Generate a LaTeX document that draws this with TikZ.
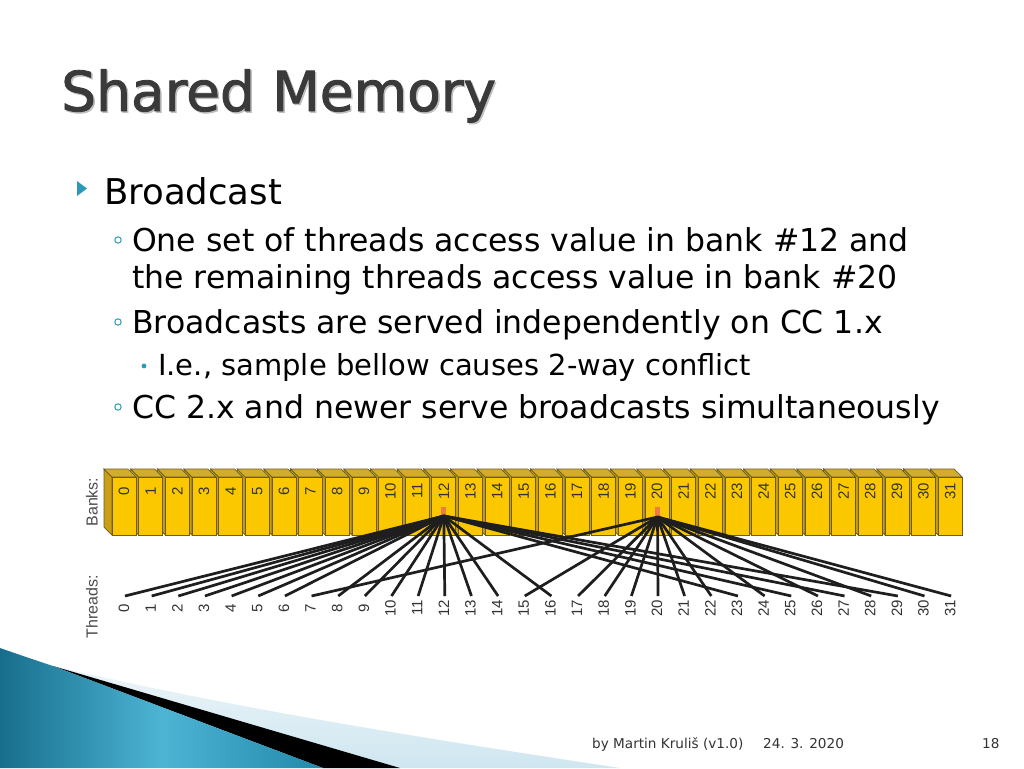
\documentclass[tikz,border=0pt]{standalone}
\usepackage{fontspec}
\setmainfont{DejaVu Sans}
\newfontfamily\titlefont{DejaVu Sans}[FakeBold=1.6]
\newfontfamily\figfont{Liberation Sans}
\usetikzlibrary{calc}
\definecolor{bullteal}{HTML}{2C9AB7}
\definecolor{titlegray}{HTML}{3A3A3A}
\definecolor{bankfront}{HTML}{FBC800}
\definecolor{banktop}{HTML}{D8AA2C}
\definecolor{bankside}{HTML}{CC9E12}
\definecolor{bankedge}{HTML}{6B5A2A}
\definecolor{hubmark}{HTML}{EE7A45}
\definecolor{wirecol}{HTML}{1E1E1E}
\definecolor{swdark}{HTML}{176E8C}
\definecolor{swmid}{HTML}{4DB4D4}
\definecolor{swright}{HTML}{2389AC}
\definecolor{swlight}{HTML}{CFE6F0}
\tikzset{
  body/.style={anchor=base west,inner sep=0pt,font=\fontsize{31.5}{31.5}\selectfont},
  bank label/.style={rotate=90,inner sep=0pt,text=black!80,font=\figfont\fontsize{15}{15}\selectfont},
  axis label/.style={rotate=90,inner sep=0pt,text=black!70,font=\figfont\fontsize{16}{16}\selectfont},
  wire/.style={draw=wirecol,line width=2.7pt},
  footer/.style={anchor=base west,inner sep=0pt,text=black!80,font=\fontsize{13.6}{13.6}\selectfont}
}
\begin{document}
\begin{tikzpicture}[x=1pt,y=-1pt]
  \useasboundingbox[fill=white] (0,0) rectangle (1024,768);
  % corner swoosh
  \shade[top color=swlight!40,bottom color=swlight] (53,666) .. controls (250,712) and (450,742) .. (620,768) -- (400,768) -- cycle;
  \fill[black] (53,666) -- (400,768) -- (323,768) -- cycle;
  \shade[left color=swdark,right color=swright,middle color=swmid] (0,648) .. controls (20,655) and (38,661) .. (53,666) -- (323,768) -- (0,768) -- cycle;
  % title and text
  \node[anchor=base west,inner sep=0pt,text=black!25,font=\titlefont\fontsize{55}{55}\selectfont] at (62.5,112.5) {Shared Memory};
  \node[anchor=base west,inner sep=0pt,text=titlegray,font=\titlefont\fontsize{55}{55}\selectfont] (title) at (61,111) {Shared Memory};
  \fill[bullteal] (77,181) -- (87,188.5) -- (77,196) -- cycle;
  \node[body,font=\fontsize{35.5}{35.5}\selectfont] (l0) at (104,204) {Broadcast};
  \draw[bullteal,line width=1pt] (118,240) circle (3.2);
  \node[body] (l1) at (132,251) {One set of threads access value in bank \#12 and};
  \node[body] (l2) at (132,288) {the remaining threads access value in bank \#20};
  \draw[bullteal,line width=1pt] (118,322) circle (3.2);
  \node[body] (l3) at (132,333) {Broadcasts are served independently on CC 1.x};
  \fill[bullteal] (144,366) circle (2.4);
  \node[body,font=\fontsize{29}{29}\selectfont] (l4) at (158,375) {I.e., sample bellow causes 2-way conflict};
  \draw[bullteal,line width=1pt] (118,407) circle (3.2);
  \node[body] (l5) at (132,418) {CC 2.x and newer serve broadcasts simultaneously};
  % banks
  \foreach \n in {31,30,...,0}{
    \pgfmathsetmacro\bx{112+26.65*\n}
    \filldraw[fill=bankside,draw=bankedge,line width=0.7pt] (\bx,477) -- (\bx-8,469) -- (\bx-8,527) -- (\bx,535) -- cycle;
    \filldraw[fill=banktop,draw=bankedge,line width=0.7pt] (\bx,477) -- (\bx-8,469) -- (\bx+16,469) -- (\bx+24,477) -- cycle;
    \filldraw[fill=bankfront,draw=bankedge,line width=0.7pt] (\bx,477) rectangle (\bx+24,535);
    \node[bank label] (b\n) at (\bx+12,491) {\n};
  }
  \node[axis label] (banks) at (92,502) {Banks:};
  \node[axis label] (threads) at (92,607) {Threads:};
  % threads
  \foreach \n in {0,...,31}{
    \coordinate (t\n) at (125+26.65*\n,596);
    \node[bank label] (tl\n) at (124+26.65*\n,608) {\n};
  }
  \fill[hubmark] (441.3,507) rectangle (446.3,515);
  \fill[hubmark] (655,507) rectangle (660,516);
  \coordinate (h12) at (443.8,516);
  \coordinate (h20) at (657.5,517);
  \foreach \n in {0,1,2,3,4,5,6,8,9,10,11,12,13,14,16,23,25,27,29}
    \draw[wire] (t\n) -- (h12);
  \foreach \n in {7,15,17,18,19,20,21,22,24,26,28,30,31}
    \draw[wire] (t\n) -- (h20);
  % footer
  \node[footer] (author) at (592,748) {by Martin Kruliš (v1.0)};
  \node[footer] (date) at (763,748) {24. 3. 2020};
  \node[footer] (page) at (982,748) {18};
\end{tikzpicture}
\end{document}
